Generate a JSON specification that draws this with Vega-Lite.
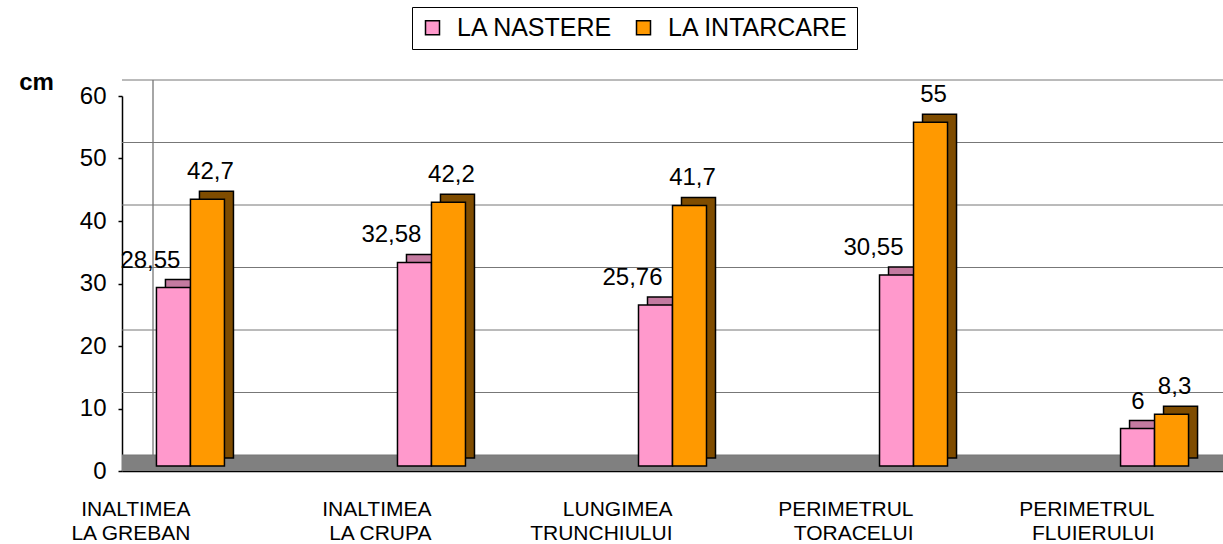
{
  "$schema": "https://vega.github.io/schema/vega-lite/v6.json",
  "width": 1101,
  "height": 375,
  "autosize": "none",
  "padding": {"left": 122, "top": 96, "right": 0, "bottom": 73},
  "background": "white",
  "config": {
    "view": {"stroke": null},
    "font": "Liberation Sans"
  },
  "resolve": {"scale": {"y": "shared"}, "axis": {"y": "independent"}},
  "datasets": {
    "bars": [
      {"cat": "INALTIMEA LA GREBAN", "series": "LA NASTERE", "val": 28.55},
      {"cat": "INALTIMEA LA GREBAN", "series": "LA INTARCARE", "val": 42.7},
      {"cat": "INALTIMEA LA CRUPA", "series": "LA NASTERE", "val": 32.58},
      {"cat": "INALTIMEA LA CRUPA", "series": "LA INTARCARE", "val": 42.2},
      {"cat": "LUNGIMEA TRUNCHIULUI", "series": "LA NASTERE", "val": 25.76},
      {"cat": "LUNGIMEA TRUNCHIULUI", "series": "LA INTARCARE", "val": 41.7},
      {"cat": "PERIMETRUL TORACELUI", "series": "LA NASTERE", "val": 30.55},
      {"cat": "PERIMETRUL TORACELUI", "series": "LA INTARCARE", "val": 55},
      {"cat": "PERIMETRUL FLUIERULUI", "series": "LA NASTERE", "val": 6},
      {"cat": "PERIMETRUL FLUIERULUI", "series": "LA INTARCARE", "val": 8.3}
    ],
    "grid": [{"v": 0}, {"v": 10}, {"v": 20}, {"v": 30}, {"v": 40}, {"v": 50}, {"v": 60}],
    "floor": [{"f0": 0, "f1": 2.56}]
  },
  "layer": [
    {
      "data": {"name": "floor"},
      "mark": {"type": "rect", "color": "#808080"},
      "encoding": {
        "y": {"field": "f0", "type": "quantitative", "scale": {"domain": [0, 60], "nice": false}, "axis": null},
        "y2": {"field": "f1"}
      }
    },
    {
      "data": {"name": "grid"},
      "mark": {"type": "rule", "color": "#777777", "xOffset": 31, "yOffset": -16, "strokeWidth": 1},
      "encoding": {
        "y": {
          "field": "v", "type": "quantitative",
          "axis": {
            "orient": "left", "offset": -47, "translate": -16, "title": null, "labels": false, "ticks": false, "grid": false,
            "domainColor": "#888888", "domainWidth": 1.5, "zindex": 0
          }
        }
      }
    },
    {
      "data": {"name": "bars"},
      "transform": [{"filter": "datum.series === 'LA NASTERE'"}],
      "mark": {"type": "bar", "width": 34, "xOffset": -8, "yOffset": -13, "stroke": "black", "strokeWidth": 1.5, "fill": "#c47aa0"},
      "encoding": {
        "x": {"field": "cat", "type": "nominal", "sort": null, "scale": {"paddingInner": 0.72, "paddingOuter": 0.144}},
        "y": {"field": "val", "type": "quantitative", "axis": null}
      }
    },
    {
      "data": {"name": "bars"},
      "transform": [{"filter": "datum.series === 'LA INTARCARE'"}],
      "mark": {"type": "bar", "width": 34, "xOffset": 26, "yOffset": -13, "stroke": "black", "strokeWidth": 1.5, "fill": "#7f4c00"},
      "encoding": {
        "x": {"field": "cat", "type": "nominal", "sort": null},
        "y": {"field": "val", "type": "quantitative", "axis": null}
      }
    },
    {
      "data": {"name": "bars"},
      "transform": [{"filter": "datum.series === 'LA NASTERE'"}],
      "mark": {"type": "bar", "width": 34, "xOffset": -17, "yOffset": -5, "stroke": "black", "strokeWidth": 1.5},
      "encoding": {
        "x": {"field": "cat", "type": "nominal", "sort": null},
        "y": {"field": "val", "type": "quantitative", "axis": null},
        "fill": {"field": "series", "type": "nominal", "scale": {"domain": ["LA NASTERE", "LA INTARCARE"], "range": ["#ff99cc", "#ff9900"]}}
      }
    },
    {
      "data": {"name": "bars"},
      "transform": [{"filter": "datum.series === 'LA INTARCARE'"}],
      "mark": {"type": "bar", "width": 34, "xOffset": 17, "yOffset": -5, "stroke": "black", "strokeWidth": 1.5},
      "encoding": {
        "x": {
          "field": "cat", "type": "nominal", "sort": null,
          "axis": {
            "title": null, "domain": true, "domainColor": "black", "domainWidth": 1.5, "ticks": false, "labelAngle": 0,
            "labelFontSize": 21, "labelColor": "black", "labelPadding": 38, "labelLineHeight": 24,
            "labelExpr": "[substring(datum.value, 0, indexof(datum.value, ' ')), substring(datum.value, indexof(datum.value, ' ') + 1)]"
          }
        },
        "y": {
          "field": "val", "type": "quantitative",
          "axis": {
            "orient": "left",
            "title": "cm", "titleAngle": 0, "titleX": -86, "titleY": -14, "titleAlign": "center", "titleBaseline": "middle",
            "titleFontSize": 24, "titleFontWeight": "bold", "titleColor": "black",
            "values": [0, 10, 20, 30, 40, 50, 60], "grid": false, "ticks": true, "tickSize": 4, "tickColor": "black", "tickWidth": 1.5,
            "labelFontSize": 24, "labelColor": "black", "labelPadding": 12,
            "domainColor": "black", "domainWidth": 1.5
          }
        },
        "fill": {
          "field": "series", "type": "nominal",
          "legend": {
            "orient": "none", "legendX": 290, "legendY": -89, "direction": "horizontal", "title": null,
            "labelFontSize": 25, "labelColor": "black", "labelLimit": 400, "symbolType": "square", "symbolSize": 196,
            "symbolStrokeColor": "black", "symbolStrokeWidth": 1.5, "strokeColor": "black", "fillColor": "white",
            "padding": 8, "columnPadding": 18, "labelOffset": 12
          }
        }
      }
    },
    {
      "data": {"name": "bars"},
      "transform": [
        {"filter": "datum.series === 'LA NASTERE'"},
        {"calculate": "replace(format(datum.val, '~g'), '.', ',')", "as": "lbl"}
      ],
      "mark": {"type": "text", "align": "right", "baseline": "alphabetic", "xOffset": -10, "dy": -25, "fontSize": 24, "color": "black"},
      "encoding": {
        "x": {"field": "cat", "type": "nominal", "sort": null},
        "y": {"field": "val", "type": "quantitative", "axis": null},
        "text": {"field": "lbl", "type": "nominal"}
      }
    },
    {
      "data": {"name": "bars"},
      "transform": [
        {"filter": "datum.series === 'LA INTARCARE'"},
        {"calculate": "replace(format(datum.val, '~g'), '.', ',')", "as": "lbl"}
      ],
      "mark": {"type": "text", "align": "center", "baseline": "alphabetic", "xOffset": 20, "dy": -25, "fontSize": 24, "color": "black"},
      "encoding": {
        "x": {"field": "cat", "type": "nominal", "sort": null},
        "y": {"field": "val", "type": "quantitative", "axis": null},
        "text": {"field": "lbl", "type": "nominal"}
      }
    }
  ]
}
